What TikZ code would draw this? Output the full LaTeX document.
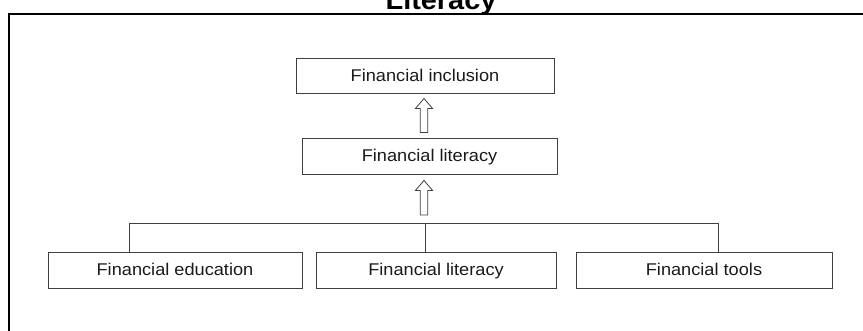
\documentclass[tikz,border=0pt]{standalone}
\usepackage{fontspec}
\usepackage{tikz}
\usetikzlibrary{calc,positioning}
\newfontfamily\chartfont{Liberation Sans}[FakeStretch=1.07]
\definecolor{boxgray}{RGB}{64,64,64}
\definecolor{textgray}{RGB}{26,26,26}

% hollow up-arrow between two points (bottom, top)
\newcommand\uparrowbox[2]{%
  \draw[blockarrow] let \p1=#1, \p2=#2 in
    (\x1-3.75pt,\y1) -- (\x1+3.75pt,\y1) -- (\x1+3.75pt,\y2-10pt)
    -- (\x1+8.5pt,\y2-10pt) -- (\x1,\y2) -- (\x1-8.5pt,\y2-10pt)
    -- (\x1-3.75pt,\y2-10pt) -- cycle;}

\begin{document}
\begin{tikzpicture}[x=1pt, y=-1pt,
    finbox/.style={draw=boxgray, line width=0.9pt, text=textgray, inner sep=0pt,
        text height=12.5pt, text depth=0.5pt,
        font=\chartfont\fontsize{17}{20}\selectfont},
    blockarrow/.style={draw=boxgray, line width=0.8pt, fill=white},
    branch/.style={draw=boxgray, line width=0.8pt}]
        \useasboundingbox (0,0) rectangle (863,331);

        % Outer frame and title
        \draw[line width=2pt] (9,340) |- (870,14);
        \node[anchor=base, font=\chartfont\bfseries\fontsize{27}{32}\selectfont] (title) at (441,9.5) {Literacy};

        % Upper chain
        \node[finbox, minimum width=258, minimum height=35] (incl) at (425,75.5) {Financial inclusion};
        \node[finbox, minimum width=255, minimum height=36] (lit) at (429.5,156) {Financial literacy};

        % Bottom row
        \node[finbox, minimum width=254, minimum height=36] (edu) at (175,270) {Financial education};
        \node[finbox, minimum width=240, minimum height=36] (lit2) at (436,270) {Financial literacy};
        \node[finbox, minimum width=256, minimum height=36] (tools) at (704,270) {Financial tools};

        % Branch lines
        \coordinate (jl) at (129,223);
        \coordinate (hub) at (425,223);
        \coordinate (jr) at (718,223);
        \draw[branch] (jl |- edu.north) -- (jl) -- (jr) -- (jr |- tools.north);
        \draw[branch] (hub) -- (hub |- lit2.north);

        % Block arrows
        \coordinate (a1) at (424,0);
        \uparrowbox{($(a1 |- lit.north)+(0,-5)$)}{($(a1 |- incl.south)+(0,5)$)}
        \uparrowbox{($(hub)+(-1,-8)$)}{($(a1 |- lit.south)+(0,6)$)}
    \end{tikzpicture}
\end{document}
